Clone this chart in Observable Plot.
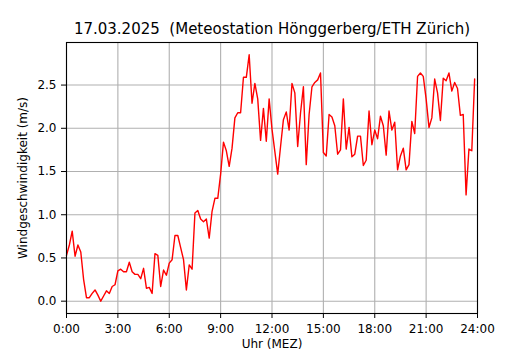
<!DOCTYPE html>
<html>
<head>
<meta charset="utf-8">
<script src="https://cdn.jsdelivr.net/npm/d3@7"></script>
<script src="https://cdn.jsdelivr.net/npm/@observablehq/plot@0.6"></script>
<style>
  body { margin: 0; background: #fff; font-family: "DejaVu Sans", sans-serif; }
  #title { height: 40px; width: 530px; position: relative; }
  #title span { position: absolute; left: 272px; top: 22px; transform: translateX(-50%); white-space: pre; font-size: 15px; color: #000; line-height: 1; }
</style>
</head>
<body>
<div id="title"><span></span></div>
<div id="chart"></div>
<script>
const titleText = "17.03.2025  (Meteostation Hönggerberg/ETH Zürich)";
const xLabel = "Uhr (MEZ)";
const yLabel = "Windgeschwindigkeit (m/s)";
const xTicks = [0, 3, 6, 9, 12, 15, 18, 21, 24];
const xTickLabels = ["0:00", "3:00", "6:00", "9:00", "12:00", "15:00", "18:00", "21:00", "24:00"];
const yTicks = [0, 0.5, 1.0, 1.5, 2.0, 2.5];
const stepMinutes = 10;
const windSpeed = [
  0.53, 0.65, 0.81, 0.52, 0.65, 0.57, 0.25, 0.04, 0.04, 0.09, 0.13, 0.07,
  0.00, 0.06, 0.12, 0.09, 0.17, 0.19, 0.35, 0.37, 0.34, 0.34, 0.45, 0.34,
  0.31, 0.31, 0.26, 0.38, 0.15, 0.16, 0.09, 0.55, 0.53, 0.17, 0.36, 0.30,
  0.44, 0.48, 0.76, 0.76, 0.62, 0.48, 0.13, 0.42, 0.37, 1.02, 1.05, 0.95,
  0.92, 0.95, 0.73, 1.04, 1.19, 1.19, 1.47, 1.84, 1.74, 1.56, 1.77, 2.12,
  2.18, 2.18, 2.59, 2.59, 2.85, 2.29, 2.52, 2.34, 1.86, 2.23, 1.85, 2.34,
  1.99, 1.73, 1.47, 1.79, 2.10, 2.19, 1.98, 2.52, 2.41, 1.79, 2.18, 2.48,
  1.58, 2.16, 2.48, 2.53, 2.56, 2.64, 1.72, 1.68, 2.16, 2.13, 2.03, 1.70,
  1.75, 2.34, 1.76, 2.01, 1.67, 1.70, 1.91, 1.91, 1.57, 1.63, 2.20, 1.81,
  1.98, 1.88, 2.14, 2.03, 1.69, 2.20, 1.98, 2.07, 1.52, 1.68, 1.77, 1.52,
  1.58, 2.08, 1.94, 2.60, 2.64, 2.60, 2.34, 2.01, 2.12, 2.57, 2.41, 2.09,
  2.58, 2.55, 2.64, 2.43, 2.53, 2.46, 2.15, 2.16, 1.23, 1.76, 1.74, 2.57
];

document.querySelector("#title span").textContent = titleText;

const data = windSpeed.map((v, i) => ({hour: i * stepMinutes / 60, v}));
const yMin = d3.min(windSpeed), yMax = d3.max(windSpeed);
const pad = (yMax - yMin) * 0.05;

const chart = Plot.plot({
  width: 530,
  height: 310,
  marginTop: 2,
  marginBottom: 37,
  marginLeft: 66,
  marginRight: 53,
  style: {fontFamily: "DejaVu Sans, sans-serif", fontSize: "12px", color: "#000", background: "#fff", overflow: "visible"},
  x: {domain: [0, 24]},
  y: {domain: [yMin - pad, yMax + pad]},
  marks: [
    Plot.gridX(xTicks, {stroke: "#b0b0b0", strokeOpacity: 1, strokeWidth: 1.1}),
    Plot.gridY(yTicks, {stroke: "#b0b0b0", strokeOpacity: 1, strokeWidth: 1.1}),
    Plot.lineY(data, {x: "hour", y: "v", stroke: "#ff0000", strokeWidth: 1.4}),
    Plot.frame({stroke: "#000", strokeWidth: 1.1}),
    Plot.axisX(xTicks, {
      tickSize: 5, tickPadding: 6, tickFormat: (d) => xTickLabels[xTicks.indexOf(d)],
      fontSize: 12, label: xLabel, labelAnchor: "center", labelArrow: "none", labelOffset: 34.5
    }),
    Plot.axisY(yTicks, {
      tickSize: 5, tickPadding: 5, tickFormat: d3.format(".1f"),
      fontSize: 12, label: yLabel, labelAnchor: "center", labelArrow: "none", labelOffset: 48
    })
  ]
});
document.getElementById("chart").appendChild(chart);
</script>
</body>
</html>
